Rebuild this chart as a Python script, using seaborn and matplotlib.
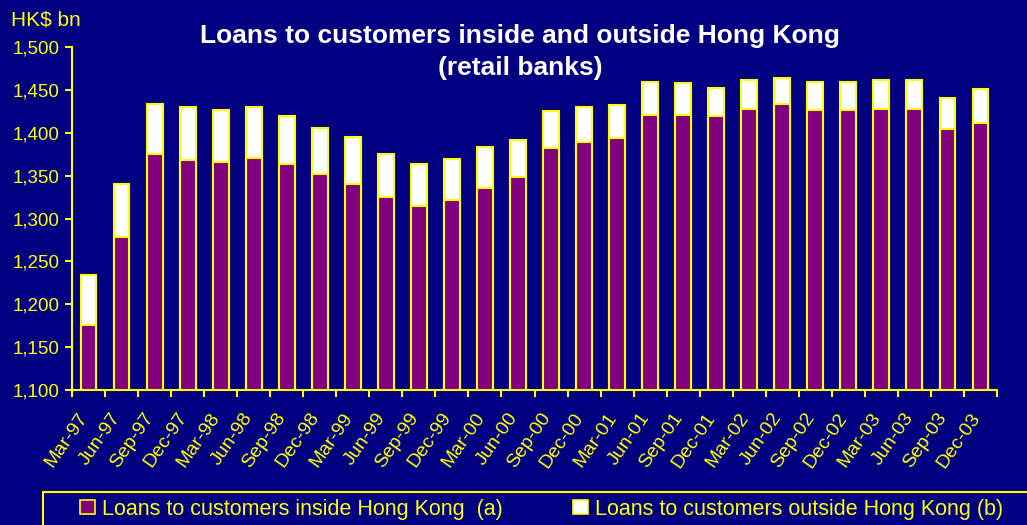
import matplotlib
matplotlib.use("Agg")
import matplotlib.pyplot as plt
import matplotlib.patches as mpatches
import matplotlib.transforms as mtransforms
from matplotlib.ticker import FuncFormatter, FixedLocator
import seaborn as sns
import pandas as pd

quarters = ["Mar-97", "Jun-97", "Sep-97", "Dec-97", "Mar-98", "Jun-98", "Sep-98", "Dec-98",
            "Mar-99", "Jun-99", "Sep-99", "Dec-99", "Mar-00", "Jun-00", "Sep-00", "Dec-00",
            "Mar-01", "Jun-01", "Sep-01", "Dec-01", "Mar-02", "Jun-02", "Sep-02", "Dec-02",
            "Mar-03", "Jun-03", "Sep-03", "Dec-03"]
inside_hk = [1176, 1279, 1375, 1368, 1366, 1370, 1363, 1352,
             1340, 1325, 1315, 1322, 1336, 1348, 1382, 1389,
             1394, 1421, 1421, 1419, 1428, 1433, 1426, 1426,
             1428, 1428, 1404, 1411]
total_loans = [1234, 1340, 1434, 1430, 1427, 1430, 1420, 1406,
               1395, 1375, 1364, 1369, 1383, 1391, 1425, 1430,
               1432, 1459, 1458, 1452, 1461, 1464, 1459, 1459,
               1462, 1462, 1440, 1451]
outside_hk = [t - i for t, i in zip(total_loans, inside_hk)]
yticks = list(range(1100, 1501, 50))

label_a = "Loans to customers inside Hong Kong  (a)"
label_b = "Loans to customers outside Hong Kong (b)"

df = pd.DataFrame({"quarter": quarters, "inside": inside_hk,
                   "outside": outside_hk, "total": total_loans})

BG = "#000080"
PURPLE = "#800080"
YELLOW = "#FFFF00"

sns.set_theme(style="white")
plt.rcParams["font.family"] = ["Liberation Sans", "DejaVu Sans"]

fig = plt.figure(figsize=(10.27, 5.25), dpi=100, facecolor=BG)
ax = fig.add_axes([72 / 1027, 135 / 525, 925 / 1027, 343 / 525])
ax.set_facecolor(BG)

sns.barplot(data=df, x="quarter", y="total", color="white", edgecolor=YELLOW,
            linewidth=1.5, width=0.48, saturation=1, ax=ax)
sns.barplot(data=df, x="quarter", y="inside", color=PURPLE, edgecolor=YELLOW,
            linewidth=1.5, width=0.48, saturation=1, ax=ax)

ax.set_xlim(-0.5, len(quarters) - 0.5)
ax.set_ylim(1100, 1500)
ax.set_yticks(yticks)
ax.yaxis.set_major_formatter(FuncFormatter(lambda v, p: f"{int(v):,}"))
ax.set_xlabel("")
ax.set_ylabel("")

for s in ["top", "right"]:
    ax.spines[s].set_visible(False)
for s in ["left", "bottom"]:
    ax.spines[s].set_color(YELLOW)
    ax.spines[s].set_linewidth(1.5)

ax.tick_params(axis="y", colors=YELLOW, labelsize=13.5, length=5, width=1.5,
               direction="out", left=True, pad=4)
ax.tick_params(axis="x", which="major", colors=YELLOW, labelsize=14, length=0, pad=14)
ax.xaxis.set_minor_locator(FixedLocator([i - 0.5 for i in range(len(quarters) + 1)]))
ax.tick_params(axis="x", which="minor", colors=YELLOW, length=5, width=1.5,
               direction="out", bottom=True)
shift = mtransforms.ScaledTranslation(-11 / 100, 0, fig.dpi_scale_trans)
for lbl in ax.get_xticklabels():
    lbl.set_rotation(55)
    lbl.set_ha("right")
    lbl.set_va("top")
    lbl.set_rotation_mode("anchor")
    lbl.set_color(YELLOW)
    lbl.set_transform(lbl.get_transform() + shift)

fig.text(11 / 1027, 1 - 20 / 525, "HK$ bn", color=YELLOW, fontsize=15,
         ha="left", va="center")
fig.text(520 / 1027, 1 - 52 / 525,
         "Loans to customers inside and outside Hong Kong\n(retail banks)",
         color="white", fontsize=19, fontweight="bold", ha="center", va="center",
         linespacing=1.45)

# legend frame
fig.patches.append(mpatches.Rectangle((43 / 1027, -0.05), 1.0, 0.05 + 33 / 525,
                                      transform=fig.transFigure, fill=False,
                                      edgecolor=YELLOW, linewidth=1.5))
handles = [mpatches.Patch(facecolor=PURPLE, edgecolor=YELLOW, linewidth=1.2),
           mpatches.Patch(facecolor="white", edgecolor=YELLOW, linewidth=1.2)]
leg = fig.legend(handles, [label_a, label_b], ncol=2, frameon=False,
                 loc="center left", bbox_to_anchor=(80 / 1027, 16 / 525),
                 fontsize=15.5, handlelength=0.7, handleheight=0.6,
                 handletextpad=0.3, columnspacing=3.3, borderpad=0, borderaxespad=0)
for t in leg.get_texts():
    t.set_color(YELLOW)

fig.savefig("out.png", dpi=100, facecolor=BG)
